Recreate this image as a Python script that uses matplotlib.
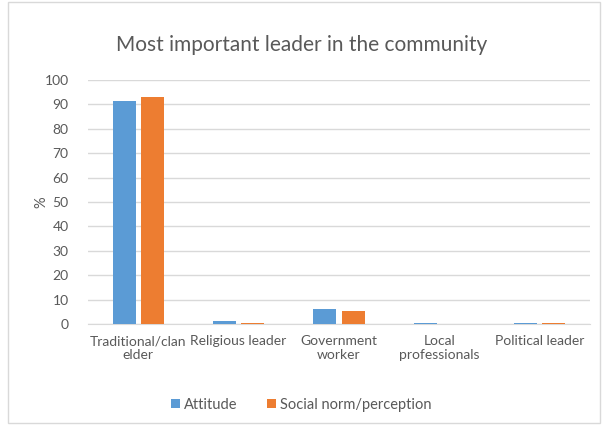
import numpy as np
import matplotlib.pyplot as plt
from matplotlib.patches import Rectangle

categories = ['Traditional/clan\nelder', 'Religious leader', 'Government\nworker',
              'Local\nprofessionals', 'Political leader']
attitude = [91.4, 1.2, 6.1, 0.5, 0.5]
social_norm = [93.0, 0.5, 5.3, 0.0, 0.5]

plt.rcParams['font.family'] = ['Lato', 'DejaVu Sans']
grey = '#595959'

fig = plt.figure(figsize=(6.03, 4.25), dpi=100)
fig.patches.append(Rectangle((8 / 603, 0.005), 592 / 603, 0.99, transform=fig.transFigure,
                             fill=False, edgecolor='#d9d9d9', linewidth=1))
ax = fig.add_axes([88 / 603, 1 - 324 / 425, 502 / 603, 244 / 425])

x = np.arange(len(categories))
w = 0.23
ax.bar(x - 0.14, attitude, w, color='#5b9bd5', label='Attitude', zorder=3)
ax.bar(x + 0.14, social_norm, w, color='#ed7d31', label='Social norm/perception', zorder=3)

ax.set_xlim(-0.5, len(categories) - 0.5)
ax.set_ylim(0, 100)
ax.set_yticks(range(0, 101, 10))
ax.grid(axis='y', color='#d9d9d9', linewidth=1, zorder=0)
for s in ['top', 'right', 'left']:
    ax.spines[s].set_visible(False)
ax.spines['bottom'].set_color('#d9d9d9')
ax.tick_params(axis='both', length=0, colors=grey, labelsize=10)
ax.tick_params(axis='y', pad=14)
ax.tick_params(axis='x', pad=8)
ax.set_xticks(x)
ax.set_xticklabels(categories, va='top', linespacing=1.15)
ax.set_ylabel('%', color=grey, fontsize=10.5, labelpad=-3)

fig.text(0.5, 1 - 45 / 425, 'Most important leader in the community', ha='center', va='center',
         fontsize=15, color=grey)
fig.legend(loc='center', bbox_to_anchor=(0.5, 1 - 405 / 425), ncol=2, frameon=False,
           fontsize=10.5, labelcolor=grey, handlelength=0.6, handleheight=0.6,
           handletextpad=0.3, columnspacing=2.0)

fig.savefig('out.png', dpi=100)
